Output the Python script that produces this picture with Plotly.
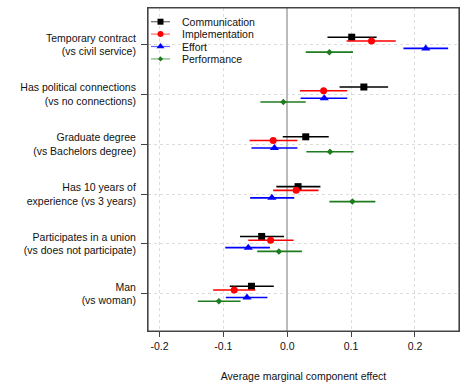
import plotly.graph_objects as go

categories = [
    "Temporary contract<br>(vs civil service)",
    "Has political connections<br>(vs no connections)",
    "Graduate degree<br>(vs Bachelors degree)",
    "Has 10 years of<br>experience (vs 3 years)",
    "Participates in a union<br>(vs does not participate)",
    "Man<br>(vs woman)",
]

series_names = ["Communication", "Implementation", "Effort", "Performance"]

comm_est = [0.101, 0.120, 0.029, 0.017, -0.040, -0.056]
comm_lo = [0.063, 0.082, -0.007, -0.017, -0.074, -0.090]
comm_hi = [0.140, 0.158, 0.065, 0.052, -0.005, -0.021]

impl_est = [0.132, 0.057, -0.022, 0.014, -0.026, -0.083]
impl_lo = [0.093, 0.020, -0.059, -0.022, -0.061, -0.116]
impl_hi = [0.170, 0.094, 0.016, 0.049, 0.010, -0.050]

eff_est = [0.217, 0.058, -0.020, -0.024, -0.061, -0.063]
eff_lo = [0.182, 0.021, -0.056, -0.058, -0.097, -0.096]
eff_hi = [0.252, 0.094, 0.016, 0.011, -0.027, -0.031]

perf_est = [0.066, -0.006, 0.067, 0.102, -0.013, -0.107]
perf_lo = [0.029, -0.042, 0.030, 0.066, -0.047, -0.140]
perf_hi = [0.103, 0.029, 0.104, 0.138, 0.023, -0.073]

x_ticks = [-0.2, -0.1, 0.0, 0.1, 0.2]
x_ticklabels = ["-0.2", "-0.1", "0.0", "0.1", "0.2"]

colors = ["#000000", "#ff0000", "#0000ff", "#1e7b1e"]
legend_line_colors = ["rgba(0,0,0,0.6)", "rgba(255,0,0,0.6)",
                      "rgba(0,0,255,0.6)", "rgba(30,123,30,0.6)"]
symbols = ["square", "circle", "triangle-up", "diamond"]
sizes = [7, 7, 8, 5]
offsets = [0.15, 0.075, -0.075, -0.15]

data = [
    (comm_est, comm_lo, comm_hi),
    (impl_est, impl_lo, impl_hi),
    (eff_est, eff_lo, eff_hi),
    (perf_est, perf_lo, perf_hi),
]

n = len(categories)
base_y = [n - i for i in range(n)]

FONT = "Liberation Sans, Arial, Helvetica, sans-serif"

fig = go.Figure()
for k, (est, lo, hi) in enumerate(data):
    ys = [b + offsets[k] for b in base_y]
    fig.add_trace(go.Scatter(
        x=est, y=ys, mode="markers", name=series_names[k],
        marker=dict(symbol=symbols[k], size=sizes[k], color=colors[k]),
        error_x=dict(type="data", symmetric=False,
                     array=[h - e for h, e in zip(hi, est)],
                     arrayminus=[e - l for e, l in zip(est, lo)],
                     color=colors[k], thickness=1.6, width=0),
        showlegend=False, hoverinfo="skip",
    ))

# manual compact legend (plot-fraction coordinates on an overlay axis)
PW, PH = 311.0, 323.0
leg_x0, leg_x1, leg_tx = 3 / PW, 22 / PW, 32 / PW
leg_row0, leg_gap = 13.7, 12.4
annotations = []
for k, name in enumerate(series_names):
    yr = 1 - (leg_row0 + k * leg_gap) / PH
    fig.add_trace(go.Scatter(
        x=[leg_x0, leg_x1], y=[yr, yr], mode="lines",
        line=dict(color=legend_line_colors[k], width=1.2),
        xaxis="x2", yaxis="y2", showlegend=False, hoverinfo="skip",
    ))
    fig.add_trace(go.Scatter(
        x=[(leg_x0 + leg_x1) / 2], y=[yr], mode="markers",
        marker=dict(symbol=symbols[k], size=sizes[k] - 1, color=colors[k]),
        xaxis="x2", yaxis="y2", showlegend=False, hoverinfo="skip",
    ))
    annotations.append(dict(
        x=leg_tx, y=yr, xref="x2", yref="y2", text=name, showarrow=False,
        xanchor="left", yanchor="middle",
        font=dict(family=FONT, size=10.5, color="#111111"),
    ))

fig.update_layout(
    template="none",
    width=463, height=383,
    margin=dict(l=148, r=4, t=8, b=52),
    paper_bgcolor="white", plot_bgcolor="white",
    font=dict(family=FONT, size=10.5, color="#111111"),
    showlegend=False,
    annotations=annotations,
    shapes=[dict(type="rect", xref="paper", yref="paper", x0=0, x1=1, y0=0, y1=1,
                 line=dict(color="#444444", width=1.2), fillcolor="rgba(0,0,0,0)",
                 layer="above")],
    xaxis2=dict(overlaying="x", range=[0, 1], visible=False, fixedrange=True),
    yaxis2=dict(overlaying="y", range=[0, 1], visible=False, fixedrange=True),
)
fig.update_layout(
    xaxis=dict(
        range=[-0.218, 0.269], tickvals=x_ticks, ticktext=x_ticklabels,
        automargin=False,
        showgrid=True, gridcolor="#dddddd", griddash="dot", gridwidth=1,
        zeroline=True, zerolinecolor="#bbbbbb", zerolinewidth=1.5,
        showline=True, mirror=True, linecolor="#444444", linewidth=1,
        ticks="outside", ticklen=5, tickcolor="#444444", tickwidth=1,
        title=dict(text="Average marginal component effect", standoff=22,
                   font=dict(size=10.5)),
    ),
    yaxis=dict(
        range=[0.252, 6.736], tickvals=base_y, ticktext=categories,
        automargin=False, ticklabelstandoff=3,
        showgrid=True, gridcolor="#dddddd", griddash="dot", gridwidth=1,
        zeroline=False,
        showline=True, mirror=True, linecolor="#444444", linewidth=1,
        ticks="outside", ticklen=6, tickcolor="#444444", tickwidth=1,
    ),
)

fig.write_html(
    "out.html",
    config={"displayModeBar": False},
    post_script="document.body.style.margin='0px';document.body.style.overflow='hidden';",
)
